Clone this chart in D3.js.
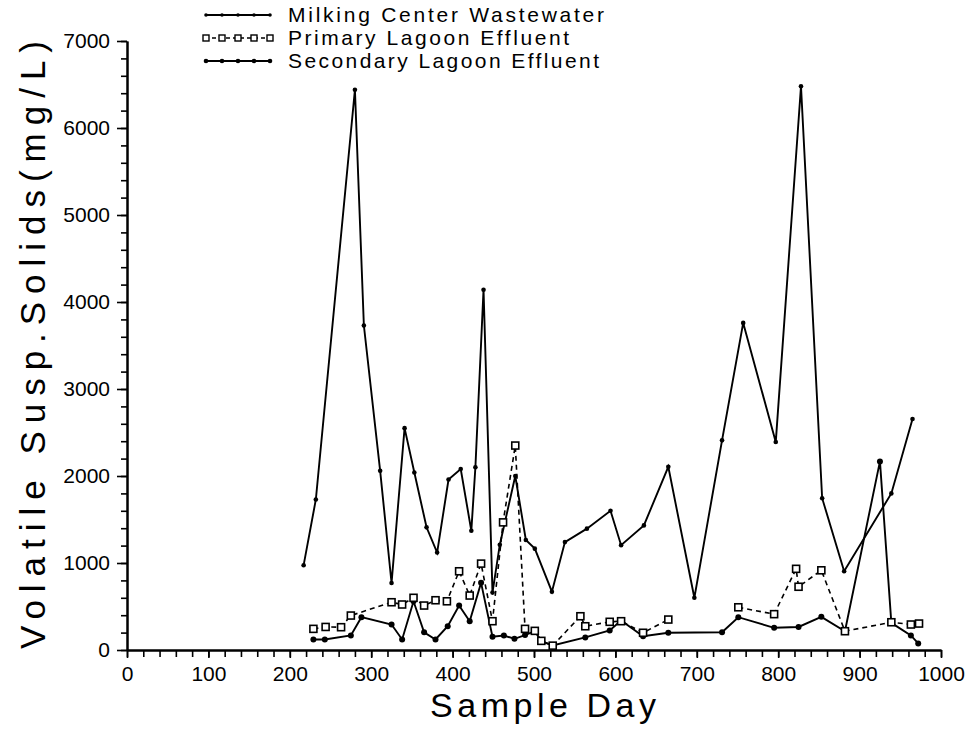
<!DOCTYPE html>
<html>
<head>
<meta charset="utf-8">
<script src="https://cdn.jsdelivr.net/npm/d3@7"></script>
<style>
  html, body { margin: 0; padding: 0; background: #fff; }
  svg { display: block; }
  text { font-family: "Liberation Sans", Arial, sans-serif; fill: #000; }
</style>
</head>
<body>
<svg id="chart" width="974" height="730"></svg>
<script>
// Volatile suspended solids (mg/L) by sample day for three sampling points.
const milkingDay = [217, 232, 280, 291, 311, 325, 341, 353, 368, 381, 395, 410, 423, 428, 438,
  449, 458, 477, 490, 501, 522, 538, 565, 594, 607, 635, 665, 697, 731, 757, 797, 828, 854, 881, 939, 965];
const milkingVSS = [975, 1730, 6440, 3730, 2060, 770, 2550, 2040, 1410, 1120, 1960, 2080, 1370, 2100, 4140,
  660, 1210, 2000, 1265, 1165, 670, 1240, 1395, 1600, 1205, 1432, 2105, 600, 2410, 3760, 2390, 6480, 1745, 905, 1800, 2655];

// null = no sample taken (line is broken there)
const primaryDay = [229, 244, 263, 275, 325, 338, 352, 365, 379, 393, 408, 421, 435, 449, 462, 477,
  489, 501, 509, 523, 557, 563, 593, 607, 634, 665, 731, 751, 795, 822, 825, 853, 882, 939, 963, 973];
const primaryVSS = [243, 265, 262, 396, 549, 523, 600, 511, 572, 560, 905, 626, 993, 331, 1467, 2350,
  243, 220, 105, 50, 388, 273, 324, 331, 198, 350, null, 491, 412, 933, 727, 916, 216, 319, 293, 304];

const secondaryDay = [229, 243, 275, 288, 325, 338, 352, 365, 379, 394, 408, 421, 435, 449, 463, 476,
  489, 501, 509, 523, 563, 593, 607, 634, 665, 731, 751, 795, 825, 853, 882, 925, 939, 963, 972];
const secondaryVSS = [121, 121, 167, 377, 293, 121, 560, 204, 121, 273, 511, 331, 772, 152, 167, 129,
  172, 216, 101, 52, 145, 224, 339, 159, 198, 204, 377, 255, 265, 381, 216, 2168, 312, 167, 75];

const seriesNames = ["Milking Center Wastewater", "Primary Lagoon Effluent", "Secondary Lagoon Effluent"];
const xMajorTicks = d3.range(0, 1001, 100);
const yMajorTicks = d3.range(0, 7001, 1000);

const svg = d3.select("#chart");
const x = d3.scaleLinear().domain([0, 1000]).range([127, 941]);
const y = d3.scaleLinear().domain([0, 7000]).range([650, 41]);
const fmt = d3.format("d");

// ---- axes ----
function styleAxis(g) {
  g.select(".domain").attr("stroke", "#000").attr("stroke-width", 2);
  g.selectAll(".tick line").attr("stroke", "#000").attr("stroke-width", 1.6);
  g.selectAll(".tick text").style("font-size", "21px").attr("fill", "#000");
}

svg.append("g").attr("transform", "translate(0,650)")
  .call(d3.axisBottom(x).tickValues(d3.range(0, 1001, 20)).tickSize(7).tickSizeOuter(0).tickFormat(""))
  .call(styleAxis);
svg.append("g").attr("transform", "translate(0,650)")
  .call(d3.axisBottom(x).tickValues(xMajorTicks).tickSize(8).tickSizeOuter(0).tickPadding(8).tickFormat(fmt))
  .call(styleAxis);

svg.append("g").attr("transform", "translate(127,0)")
  .call(d3.axisLeft(y).tickValues(d3.range(0, 7001, 200)).tickSize(6).tickSizeOuter(0).tickFormat(""))
  .call(styleAxis);
svg.append("g").attr("transform", "translate(127,0)")
  .call(d3.axisLeft(y).tickValues(yMajorTicks).tickSize(10).tickSizeOuter(0).tickPadding(7).tickFormat(fmt))
  .call(styleAxis);

// axis titles
svg.append("text")
  .attr("x", 543).attr("y", 717)
  .attr("text-anchor", "middle")
  .attr("textLength", 226).attr("lengthAdjust", "spacing")
  .style("font-size", "34px")
  .text("Sample Day");

svg.append("text")
  .attr("transform", "translate(45,345) rotate(-90)")
  .attr("text-anchor", "middle")
  .attr("textLength", 608).attr("lengthAdjust", "spacing")
  .style("font-size", "35px")
  .text("Volatile Susp.Solids(mg/L)");

// ---- series ----
const milking = milkingDay.map((d, i) => ({ day: d, v: milkingVSS[i] }));
const primary = primaryDay.map((d, i) => ({ day: d, v: primaryVSS[i] }));
const secondary = secondaryDay.map((d, i) => ({ day: d, v: secondaryVSS[i] }));

const line = d3.line()
  .defined(d => d.v != null)
  .x(d => x(d.day)).y(d => y(d.v));

const plot = svg.append("g");

plot.append("path").datum(milking)
  .attr("d", line).attr("fill", "none").attr("stroke", "#000").attr("stroke-width", 1.9);
plot.append("path").datum(secondary)
  .attr("d", line).attr("fill", "none").attr("stroke", "#000").attr("stroke-width", 1.9);
plot.append("path").datum(primary)
  .attr("d", line).attr("fill", "none").attr("stroke", "#000").attr("stroke-width", 1.6)
  .attr("stroke-dasharray", "5,4");

plot.selectAll(".mk-m").data(milking).join("circle")
  .attr("cx", d => x(d.day)).attr("cy", d => y(d.v)).attr("r", 2.3).attr("fill", "#000");
plot.selectAll(".mk-s").data(secondary).join("circle")
  .attr("cx", d => x(d.day)).attr("cy", d => y(d.v)).attr("r", 3).attr("fill", "#000");
plot.selectAll(".mk-p").data(primary.filter(d => d.v != null)).join("rect")
  .attr("x", d => x(d.day) - 3.5).attr("y", d => y(d.v) - 3.5)
  .attr("width", 7).attr("height", 7)
  .attr("fill", "#fff").attr("stroke", "#000").attr("stroke-width", 1.6);

// ---- legend ----
const legend = svg.append("g");
const legendRows = [22, 45, 68];
const legendX = d3.range(0, 5).map(i => 206 + i * 16);
const legendTextLen = [316, 281, 311];

seriesNames.forEach((name, i) => {
  const ly = legendRows[i] - 7;
  const g = legend.append("g");
  g.append("line")
    .attr("x1", 205).attr("x2", 270).attr("y1", ly).attr("y2", ly)
    .attr("stroke", "#000").attr("stroke-width", i === 1 ? 1.4 : 1.9)
    .attr("stroke-dasharray", i === 1 ? "4,3" : null);
  legendX.forEach(lx => {
    if (i === 1) {
      g.append("rect").attr("x", lx - 3).attr("y", ly - 3).attr("width", 6).attr("height", 6)
        .attr("fill", "#fff").attr("stroke", "#000").attr("stroke-width", 1.4);
    } else {
      g.append("circle").attr("cx", lx).attr("cy", ly).attr("r", i === 0 ? 1.8 : 2.3).attr("fill", "#000");
    }
  });
  g.append("text")
    .attr("x", 288).attr("y", legendRows[i])
    .attr("textLength", legendTextLen[i]).attr("lengthAdjust", "spacing")
    .style("font-size", "21px")
    .text(name);
});
</script>
</body>
</html>
